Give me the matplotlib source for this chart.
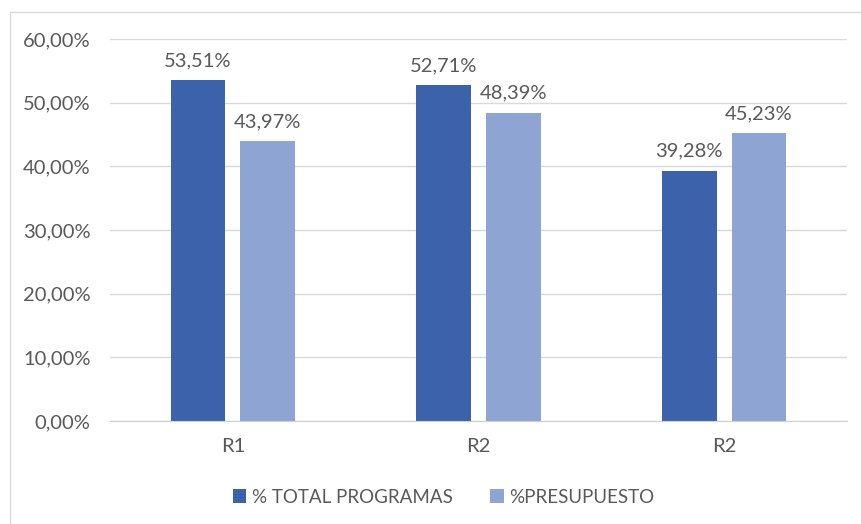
import numpy as np
import matplotlib.pyplot as plt
from matplotlib.patches import Rectangle

# datos del gráfico
categorias = ["R1", "R2", "R2"]
total_programas = [53.51, 52.71, 39.28]
presupuesto = [43.97, 48.39, 45.23]
series = ["% TOTAL PROGRAMAS", "%PRESUPUESTO"]

plt.rcParams['font.family'] = ['Lato', 'DejaVu Sans']
gris = "#595959"

fig = plt.figure(figsize=(8.61, 5.24), dpi=100)
ax = fig.add_axes([110 / 861, 1 - 421 / 524, 737 / 861, 382 / 524])

# borde exterior del gráfico
fig.patches.append(Rectangle((10 / 861, -0.01), 1.0, 1 - 12 / 524 + 0.01,
                             transform=fig.transFigure, fill=False,
                             edgecolor="#d9d9d9", linewidth=1))

x = np.arange(len(categorias))
ancho = 0.222
desp = 0.142
b1 = ax.bar(x - desp, total_programas, ancho, color="#3B62AA", label=series[0])
b2 = ax.bar(x + desp, presupuesto, ancho, color="#8EA5D4", label=series[1])

for barras, vals in ((b1, total_programas), (b2, presupuesto)):
    for b, v in zip(barras, vals):
        ax.annotate(f"{v:.2f}%".replace(".", ","),
                    (b.get_x() + b.get_width() / 2, v),
                    xytext=(0, 8), textcoords="offset points",
                    ha="center", va="bottom", fontsize=14.5, color=gris)

ax.set_ylim(0, 60)
ax.set_xlim(-0.5, 2.5)
ax.set_yticks(np.arange(0, 61, 10))
ax.set_yticklabels([f"{t:.2f}%".replace(".", ",") for t in np.arange(0, 61, 10)])
ax.set_xticks(x)
ax.set_xticklabels(categorias)
ax.tick_params(axis="both", length=0, labelsize=14.5, colors=gris)
ax.tick_params(axis="y", pad=14)
ax.tick_params(axis="x", pad=12)

ax.grid(axis="y", color="#d9d9d9", linewidth=1)
ax.set_axisbelow(True)
for s in ["top", "right", "left"]:
    ax.spines[s].set_visible(False)
ax.spines["bottom"].set_color("#d0d0d0")

ax.legend(loc="center", bbox_to_anchor=(0.453, -0.199), ncol=2, frameon=False,
          fontsize=13.5, labelcolor=gris, handlelength=0.7, handleheight=0.7,
          handletextpad=0.3, columnspacing=2.0)

fig.savefig("out.png", dpi=100)
